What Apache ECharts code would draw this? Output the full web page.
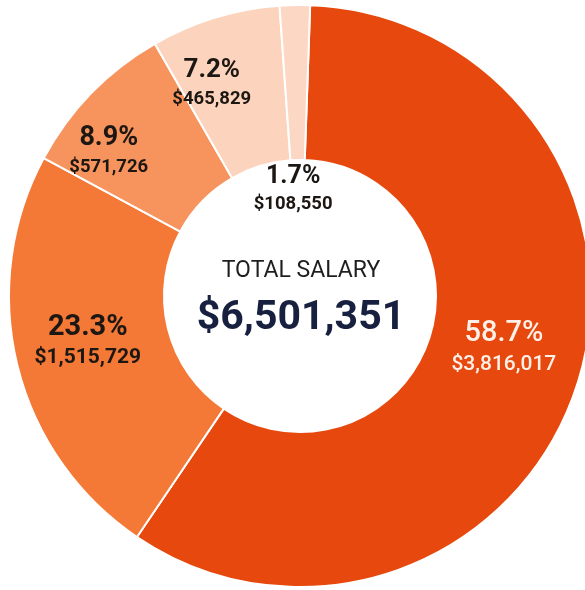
<!DOCTYPE html>
<html>
<head>
<meta charset="utf-8">
<script src="https://cdn.jsdelivr.net/npm/echarts@6/dist/echarts.min.js"></script>
<style>
  html, body { margin: 0; padding: 0; background: #ffffff; }
  #chart { width: 585px; height: 590px; }
</style>
</head>
<body>
<div id="chart"></div>
<script>
// Salary split by group, drawn clockwise from 12 o'clock
const salaryValues = [3816017, 1515729, 571726, 465829, 108550];
const percentLabels = ['58.7%', '23.3%', '8.9%', '7.2%', '1.7%'];
const totalSalary = 6501351;
const centerTitle = 'TOTAL SALARY';

// Styling (kept apart from the data)
const sliceColors = ['#E6480E', '#F47836', '#F7935D', '#FCD4BE', '#FCD7C4'];
const labelColors = ['#FFF1E8', '#1C1713', '#1C1713', '#1C1713', '#1C1713'];
const percentSizes = [29, 29, 27, 26, 25];
const valueSizes = [21, 21, 18.5, 18.5, 18.5];
const valueGaps = [7, 7, 9, 9, 8];
const labelOffsets = [[-2, -15], [-2, -6], [-36, 7], [-25, -5], [-3, 110]];

const money = v => '$' + v.toLocaleString('en-US');

const pieData = salaryValues.map((v, i) => ({
  value: v,
  itemStyle: { color: sliceColors[i] },
  label: {
    offset: labelOffsets[i],
    formatter: '{p|' + percentLabels[i] + '}\n{v|' + money(v) + '}',
    rich: {
      p: {
        fontFamily: 'Roboto', fontWeight: i === 0 ? 500 : 'bold',
        fontSize: percentSizes[i], lineHeight: percentSizes[i] + 4,
        color: labelColors[i], align: 'center'
      },
      v: {
        fontFamily: 'Roboto', fontWeight: i === 0 ? 500 : 'bold',
        fontSize: valueSizes[i], lineHeight: valueSizes[i] + valueGaps[i],
        color: labelColors[i], align: 'center'
      }
    }
  }
}));

const chart = echarts.init(document.getElementById('chart'), null, { renderer: 'canvas' });
chart.setOption({
  backgroundColor: '#ffffff',
  animation: false,
  series: [{
    type: 'pie',
    center: [300, 296],
    radius: [136, 291],
    startAngle: 88,
    clockwise: true,
    avoidLabelOverlap: false,
    silent: true,
    itemStyle: { borderColor: '#ffffff', borderWidth: 2 },
    label: { show: true, position: 'inside' },
    labelLine: { show: false },
    data: pieData
  }],
  graphic: [
    {
      type: 'text',
      x: 301, y: 271,
      style: {
        text: centerTitle,
        fontFamily: 'Roboto', fontSize: 23, fontWeight: 'normal',
        fill: '#1E1E1E', textAlign: 'center', textVerticalAlign: 'middle'
      }
    },
    {
      type: 'text',
      x: 301, y: 319,
      style: {
        text: money(totalSalary),
        fontFamily: 'Roboto', fontSize: 41, fontWeight: 'bold',
        fill: '#17213F', textAlign: 'center', textVerticalAlign: 'middle'
      }
    }
  ]
});
</script>
</body>
</html>
